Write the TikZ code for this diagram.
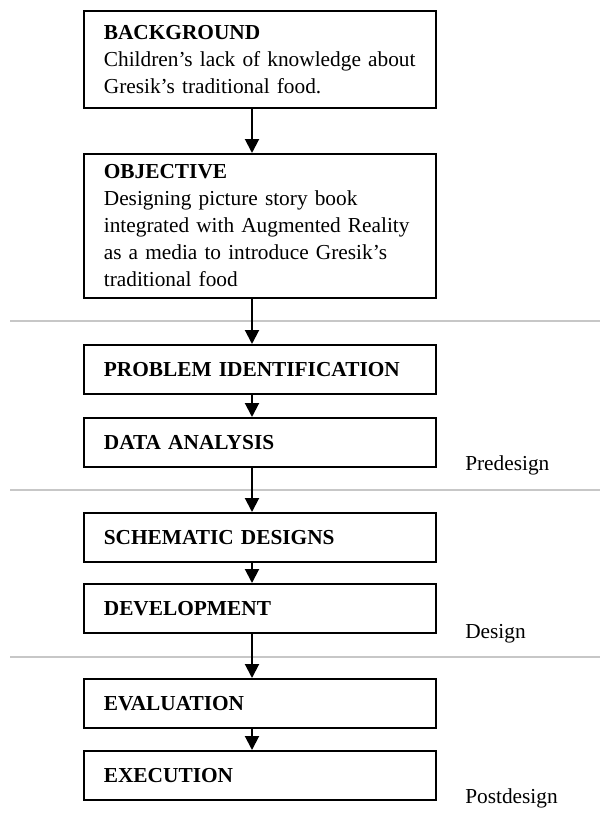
\documentclass[tikz,border=0pt]{standalone}
\usepackage{fontspec}
\setmainfont{Liberation Serif}
\usetikzlibrary{arrows.meta}

\begin{document}
\begin{tikzpicture}[x=0.75pt,y=-0.75pt,
    stage/.style={draw, line width=1.3pt, anchor=north west,
      text width=234pt, inner xsep=15pt, inner ysep=0pt, align=left,
      minimum height=36.75pt, font=\fontsize{16}{20.25}\selectfont},
    flow/.style={-{Triangle[width=10.5pt,length=10.5pt]}, line width=1.5pt},
    sep/.style={line width=1.1pt, black!22},
    phase/.style={anchor=base west, inner sep=0pt, font=\fontsize{16}{20.25}\selectfont}]
    \useasboundingbox (0,0) rectangle (600,821);
    % separators between the phases
    \foreach \y in {321,490,657}
      \draw [sep] (10,\y) -- (600,\y);
    \node [stage, minimum height=72.75pt] (bg) at (83,10)
      {\textbf{BACKGROUND}\\Children’s lack of knowledge about\\Gresik’s traditional food.};
    \node [stage, minimum height=108pt] (obj) at (83,153)
      {\textbf{OBJECTIVE}\\Designing picture story book\\integrated with Augmented Reality\\as a media to introduce Gresik’s\\traditional food};
    \node [stage] (pi)   at (83,344) {\textbf{PROBLEM IDENTIFICATION}};
    \node [stage] (da)   at (83,417) {\textbf{DATA ANALYSIS}};
    \node [stage] (sd)   at (83,512) {\textbf{SCHEMATIC DESIGNS}};
    \node [stage] (dev)  at (83,583) {\textbf{DEVELOPMENT}};
    \node [stage] (eval) at (83,678) {\textbf{EVALUATION}};
    \node [stage] (exec) at (83,750) {\textbf{EXECUTION}};
    \path (465,470) node [phase] (pre)  {Predesign}
          (465,638) node [phase] (des)  {Design}
          (465,803) node [phase] (post) {Postdesign};
    \coordinate (spine) at (252,0);
    \foreach \a/\b in {bg/obj, obj/pi, pi/da, da/sd, sd/dev, dev/eval, eval/exec}
      \draw [flow] (\a.south -| spine) -- (\b.north -| spine);
  \end{tikzpicture}
\end{document}
